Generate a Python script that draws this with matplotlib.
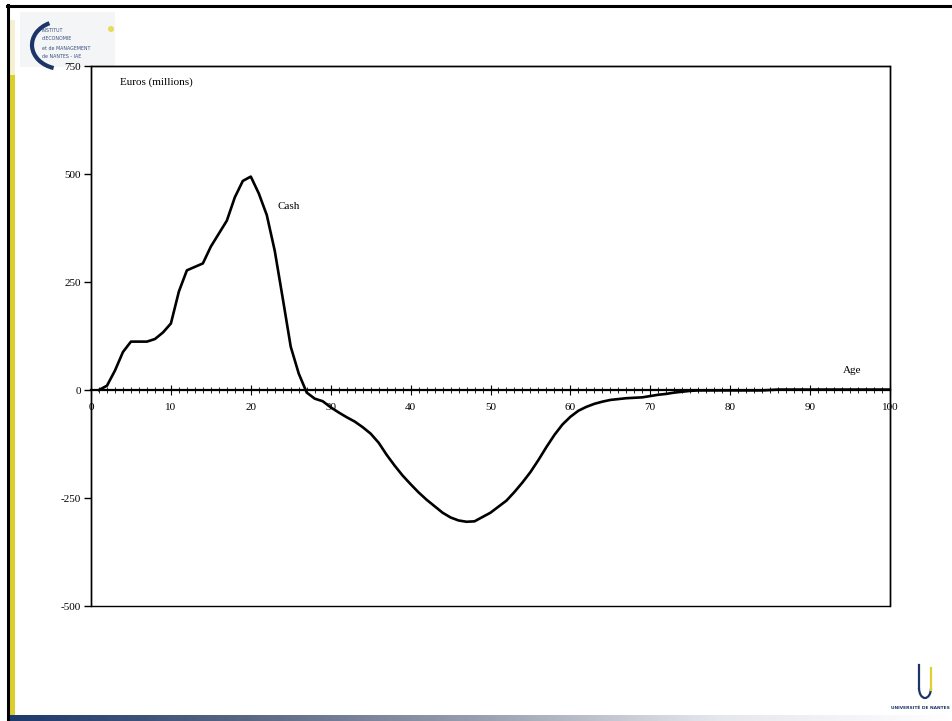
import numpy as np
import matplotlib.pyplot as plt
from matplotlib.patches import Rectangle, Arc, Circle
from matplotlib.colors import LinearSegmentedColormap

plt.rcParams['font.family'] = ['Liberation Serif', 'DejaVu Serif']
plt.rcParams['axes.unicode_minus'] = False

# cash by age (euros, millions)
ages = list(range(1, 101))
cash = [0, 10, 45, 88, 112, 112, 112, 118, 133, 154,
        228, 277, 285, 293, 332, 362, 392, 446, 484, 494,
        455, 405, 322, 212, 100, 38, -6, -20, -26, -40,
        -52, -63, -73, -86, -101, -122, -150, -175, -198, -218,
        -237, -254, -269, -284, -295, -302, -305, -304, -294, -284,
        -270, -256, -236, -214, -190, -162, -132, -104, -80, -62,
        -48, -39, -32, -27, -23, -21, -19, -18, -17, -14,
        -11, -9, -6, -4, -2, -1, -1, -1, -1, -1,
        -1, -1, -1, -1, 0, 1, 1, 1, 1, 1,
        1, 1, 1, 1, 1, 1, 1, 1, 1, 1]

yticks = [-500, -250, 0, 250, 500, 750]
xticks = list(range(0, 101, 10))

fig = plt.figure(figsize=(9.52, 7.21), dpi=100)

# slide decoration: frame lines, yellow strip, gradient bar
deco = fig.add_axes([0, 0, 1, 1])
deco.set_xlim(0, 952)
deco.set_ylim(721, 0)
deco.axis('off')
deco.plot([7, 952], [5.5, 5.5], color='black', lw=2.2)
deco.plot([8, 8], [5, 721], color='black', lw=2.2)
deco.add_patch(Rectangle((9.5, 75), 5, 641, color='#dccf2a', lw=0))
deco.add_patch(Rectangle((9.5, 20), 5, 55, color='#f4f0d0', lw=0))
grad = np.linspace(0, 1, 256).reshape(1, -1)
cmap = LinearSegmentedColormap.from_list('bar', ['#1d3a6c', '#5a6784', '#9aa0b0', '#e6e7ec', '#ffffff'])
deco.imshow(grad, cmap=cmap, extent=(9.5, 952, 721, 715.5), aspect='auto', zorder=1)

# IAE logo (approximation)
deco.add_patch(Rectangle((20, 12), 95, 55, color='#f3f5f7', lw=0))
deco.add_patch(Arc((62, 45), 60, 48, theta1=110, theta2=240, color='#1c3566', lw=3))
deco.add_patch(Circle((111, 29), 3, color='#e6dc55', lw=0))
for i, line in enumerate(['INSTITUT', "d'ECONOMIE", 'et de MANAGEMENT', 'de NANTES - IAE']):
    deco.text(42, 30 + i * 9, line, fontsize=3.4, color='#3a4f7e', va='center',
              family=['DejaVu Sans'])

# Université de Nantes logo (approximation)
deco.add_patch(Arc((925, 688), 12, 20, theta1=0, theta2=180, color='#1c3566', lw=1.6))
deco.plot([919, 919], [665, 688], color='#1c3566', lw=1.6)
deco.plot([931, 931], [668, 690], color='#e0cf30', lw=1.6)
deco.text(891, 708, 'UNIVERSITÉ DE NANTES', fontsize=3.2, color='#1c3566', va='center',
          family=['DejaVu Sans'], fontweight='bold')

ax = fig.add_axes([91 / 952, 1 - 606 / 721, 799 / 952, 540 / 721])
ax.plot(ages, cash, color='black', lw=1.9, zorder=3)

ax.set_xlim(0, 100)
ax.set_ylim(-500, 750)
ax.set_xticks(xticks)
ax.set_xticks(range(0, 101), minor=True)
ax.set_yticks(yticks)

for s in ['top', 'right', 'left']:
    ax.spines[s].set_linewidth(1.0)
ax.spines['bottom'].set_position(('data', 0))
ax.spines['bottom'].set_linewidth(1.6)
ax.add_patch(Rectangle((0, 0), 1, 1, transform=ax.transAxes, fill=False, lw=1.0, clip_on=False))

ax.tick_params(axis='x', which='major', direction='inout', length=7, width=0.8, labelsize=8, pad=6)
ax.tick_params(axis='x', which='minor', direction='inout', length=4, width=0.6)
ax.tick_params(axis='y', direction='out', length=5, width=1, labelsize=8, pad=2)

ax.text(3.6, 713, 'Euros (millions)', fontsize=8, va='center', ha='left')
ax.text(23.4, 424, 'Cash', fontsize=8, va='center', ha='left')
ax.text(94.1, 44, 'Age', fontsize=8, va='center', ha='left')

plt.savefig('out.png', dpi=100)
